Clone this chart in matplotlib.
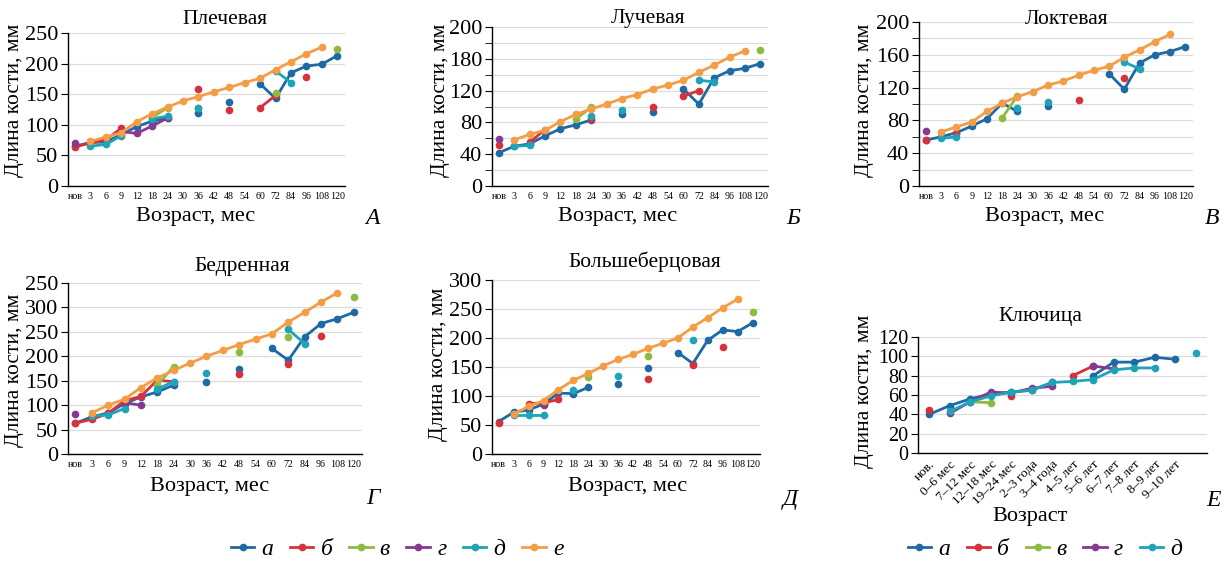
import numpy as np
import matplotlib
matplotlib.use("Agg")
import matplotlib.pyplot as plt
from matplotlib.lines import Line2D

W, H = 1227, 561
n = np.nan

plt.rcParams.update({"font.family": ["Liberation Serif", "DejaVu Serif"],
                     "axes.linewidth": 1.0})

MONTHS = ["нов", "3", "6", "9", "12", "18", "24", "30", "36", "42", "48",
          "54", "60", "72", "84", "96", "108", "120"]
CLAV_AGES = ["нов.", "0–6 мес", "7–12 мес", "12–18 мес", "19–24 мес",
             "2–3 года", "3–4 года", "4–5 лет", "5–6 лет", "6–7 лет",
             "7–8 лет", "8–9 лет", "9–10 лет", ""]

KEYS = ["а", "б", "в", "г", "д", "е"]
COLORS = {"а": "#1f69a4", "б": "#d7323c", "в": "#8dbb3f",
          "г": "#88398f", "д": "#1ea3b8", "е": "#f59d45"}

# Плечевая
HUM = {
    "а": [65, 71, 72, 84, 97, 106, 111, n, 120, n, 137, n, 167, 143, 185, 196, 199, 213],
    "б": [64, 70, 76, 94, n, n, n, n, 159, n, 124, n, 128, 148, n, 178, n, n],
    "в": [n, n, n, n, n, 112, 128, n, 128, n, n, n, n, 152, n, n, n, 224],
    "г": [70, n, n, 89, 86, 98, 111, n, n, n, n, n, n, n, n, n, n, n],
    "д": [n, 65, 68, 82, n, 110, 114, n, 127, n, n, n, n, 188, 169, n, n, n],
    "е": [n, 73, 80, 87, 105, 118, 129, 139, 146, 154, 161, 169, 176, 190, 203, 216, 227, n],
}
# Лучевая
RAD = {
    "а": [42, 50, 53, 63, 72, 77, 83, n, 90, n, 93, n, 122, 103, 136, 145, 148, 154],
    "б": [51, n, 55, 71, n, n, 84, n, n, n, 99, n, 113, 120, n, n, n, n],
    "в": [n, n, n, n, n, 84, 99, n, n, n, n, n, n, n, n, n, n, 171],
    "г": [59, n, n, n, n, n, n, n, n, n, n, n, n, n, n, n, n, n],
    "д": [n, 50, 51, n, n, n, 88, n, 95, n, n, n, n, 133, 131, n, n, n],
    "е": [n, 58, 65, 70, 81, 90, 97, 103, 110, 115, 122, 127, 133, 143, 152, 162, 170, n],
}
# Локтевая
ULN = {
    "а": [56, 60, 65, 73, 82, 101, 91, n, 98, n, n, n, 137, 118, 150, 160, 164, 170],
    "б": [56, n, 64, n, n, n, n, n, n, n, 105, n, n, 132, n, n, n, n],
    "в": [n, n, n, n, n, 83, 110, n, n, n, n, n, n, n, n, n, n, n],
    "г": [67, n, n, n, n, n, n, n, n, n, n, n, n, n, n, n, n, n],
    "д": [n, 58, 60, n, n, n, 95, n, 102, n, n, n, n, 151, 143, n, n, n],
    "е": [n, 66, 72, 78, 91, 101, 109, 115, 123, 128, 135, 141, 146, 157, 166, 176, 185, n],
}
# Бедренная
FEM = {
    "а": [63, 76, 84, 103, 117, 127, 141, n, 148, n, 173, n, 216, 192, 240, 267, 277, 290],
    "б": [63, 71, 83, 109, 118, 151, 148, n, n, n, 163, n, n, 185, n, 241, n, n],
    "в": [n, n, n, n, n, 141, 179, n, n, n, 208, n, n, 240, n, n, n, 322],
    "г": [82, n, n, 105, 100, n, n, n, n, n, n, n, n, n, n, n, n, n],
    "д": [n, 78, 80, 93, n, 133, 148, n, 166, n, n, n, n, 255, 226, n, n, n],
    "е": [n, 84, 100, 112, 136, 156, 171, 186, 200, 212, 224, 235, 246, 270, 290, 311, 330, n],
}
# Большеберцовая
TIB = {
    "а": [56, 72, 76, 86, 105, 104, 115, n, 120, n, 148, n, 175, 156, 196, 214, 211, 226],
    "б": [54, n, 87, 88, 94, n, n, n, n, n, 130, n, n, 154, n, 185, n, n],
    "в": [n, n, n, n, n, n, 132, n, n, n, 169, n, n, n, n, n, n, 244],
    "г": [n, n, n, 85, n, n, n, n, n, n, n, n, n, n, n, n, n, n],
    "д": [n, 67, 67, 67, n, 110, n, n, 135, n, n, n, n, 196, n, n, n, n],
    "е": [n, 69, 82, 92, 111, 127, 139, 152, 163, 172, 182, 191, 200, 219, 235, 252, 267, n],
}
# Ключица
CLAV = {
    "а": [40, 49, 56, 61, 63, 65, 73, n, 80, 94, 94, 99, 97, n],
    "б": [44, n, n, n, 59, n, n, 80, 90, n, n, n, n, n],
    "в": [n, n, 53, 52, n, n, n, n, n, n, n, n, n, n],
    "г": [n, 41, 53, 63, 62, 67, 69, n, 90, 87, n, n, n, n],
    "д": [n, 43, 53, 59, 63, 65, 73, 74, 76, 86, 88, 88, n, 103],
}


def rect(l, r, t, b):
    return [l / W, 1 - b / H, (r - l) / W, (b - t) / H]


def ftext(fig, x, y, s, **kw):
    kw.setdefault("ha", "center")
    kw.setdefault("va", "center")
    fig.text(x / W, 1 - y / H, s, **kw)


def panel(fig, box, data, labels, ymax, major, minor=None, ylabels=None,
          xfont=7.2, rot=0, yfont=16):
    ax = fig.add_axes(rect(*box))
    x = np.arange(len(labels))
    for k in KEYS:
        if k in data:
            ax.plot(x, data[k], "-o", color=COLORS[k], lw=2, ms=4.5, zorder=3)
    if rot:
        ax.set_xlim(-0.55, len(labels) - 0.45)
    else:
        ax.set_xlim(-0.45, len(labels) - 0.5)
    ax.set_ylim(0, ymax)
    ax.set_yticks(np.arange(0, ymax + 1, major))
    if ylabels:
        ax.set_yticklabels(ylabels)
    if minor:
        ax.set_yticks(np.arange(0, ymax + 1, minor), minor=True)
        ax.grid(axis="y", which="minor", color="#dcdcdc", lw=0.9)
    ax.grid(axis="y", which="major", color="#dcdcdc", lw=0.9)
    ax.set_axisbelow(True)
    ax.set_xticks(x)
    if rot:
        ax.set_xticklabels(labels, fontsize=xfont, rotation=rot, ha="right",
                           rotation_mode="anchor")
    else:
        ax.set_xticklabels(labels, fontsize=xfont)
    ax.tick_params(axis="x", length=0, pad=4)
    ax.tick_params(axis="y", which="both", direction="out", length=5,
                   labelsize=yfont, pad=2)
    for s in ("top", "right"):
        ax.spines[s].set_visible(False)
    return ax


fig = plt.figure(figsize=(W / 100, H / 100), dpi=100)

panel(fig, (68, 345, 33, 186), HUM, MONTHS, 250, 50)
panel(fig, (492, 768, 27, 186), RAD, MONTHS, 200, 40, minor=20,
      ylabels=["0", "40", "80", "120", "180", "200"])
panel(fig, (919, 1193, 22, 186), ULN, MONTHS, 200, 40, minor=20)
panel(fig, (68, 362, 283, 454), FEM, MONTHS, 350, 50,
      ylabels=["0", "50", "100", "150", "200", "250", "300", "250"])
panel(fig, (492, 760, 280, 454), TIB, MONTHS, 300, 50)
panel(fig, (918, 1207, 337, 453), CLAV, CLAV_AGES, 120, 20, xfont=9.5, rot=45,
      yfont=14.5)

# titles
for x, y, s in [(225, 19, "Плечевая"), (648, 19, "Лучевая"),
                (1067, 20, "Локтевая"), (242, 267, "Бедренная"),
                (645, 262, "Большеберцовая"), (1040, 316, "Ключица")]:
    ftext(fig, x, y, s, fontsize=15.5)

# axis labels
for x, y, s in [(196, 216, "Возраст, мес"), (618, 216, "Возраст, мес"),
                (1045, 216, "Возраст, мес"), (210, 487, "Возраст, мес"),
                (628, 487, "Возраст, мес"), (1030, 517, "Возраст")]:
    ftext(fig, x, y, s, fontsize=16)
for x, y in [(15, 100), (440, 100), (864, 100), (15, 370), (439, 364), (864, 391)]:
    ftext(fig, x, y, "Длина кости, мм", fontsize=15.5, rotation=90)

# panel letters
for x, y, s in [(372, 218, "А"), (793, 218, "Б"), (1212, 218, "В"),
                (373, 498, "Г"), (790, 500, "Д"), (1213, 500, "Е")]:
    ftext(fig, x, y, s, fontsize=17, style="italic")

handles = [Line2D([], [], color=COLORS[k], lw=2, marker="o", ms=4.5) for k in KEYS]
leg_kw = dict(frameon=False, loc="center", handlelength=1.0, handletextpad=0.3,
              columnspacing=0.7, prop={"size": 17, "style": "italic"})
fig.legend(handles, KEYS, ncol=6, bbox_to_anchor=(397 / W, 1 - 549 / H), **leg_kw)
fig.legend(handles[:5], KEYS[:5], ncol=5, bbox_to_anchor=(1045 / W, 1 - 549 / H), **leg_kw)

fig.savefig("out.png", dpi=100)
